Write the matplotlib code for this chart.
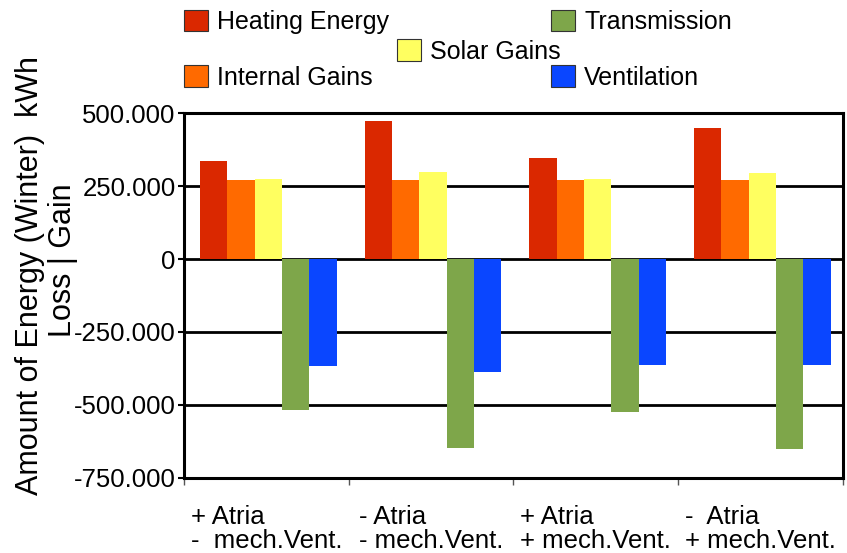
import matplotlib
matplotlib.use("Agg")
import matplotlib.pyplot as plt
import numpy as np

plt.rcParams['font.family'] = ['Liberation Sans', 'DejaVu Sans']

# values in kWh
categories = ["+ Atria\n-  mech.Vent.", "- Atria\n- mech.Vent.",
              "+ Atria\n+ mech.Vent.", "-  Atria\n+ mech.Vent."]
heating = [337000, 473000, 346000, 449000]
internal = [271000, 271000, 271000, 271000]
solar = [274000, 299000, 274000, 295000]
transmission = [-516000, -647000, -524000, -651000]
ventilation = [-365000, -389000, -364000, -364000]

series_names = ["Heating Energy", "Internal Gains", "Solar Gains", "Transmission", "Ventilation"]
series_vals = [heating, internal, solar, transmission, ventilation]
colors = ["#DA2800", "#FF6A00", "#FFFF60", "#7EA64A", "#0A46FF"]

yticks = [-750000, -500000, -250000, 0, 250000, 500000]

fig = plt.figure(figsize=(8.47, 5.53), dpi=100)
ax = fig.add_axes([0.2172, 0.1362, 0.7777, 0.6586])

x = np.arange(len(categories))
w = 0.166
bars = []
for k, (name, vals, c) in enumerate(zip(series_names, series_vals, colors)):
    b = ax.bar(x + (k - 2) * w + 0.012, vals, w, color=c, label=name, zorder=3)
    bars.append(b)

ax.set_xlim(-0.5, 3.5)
ax.set_ylim(-750000, 500000)
ax.set_yticks(yticks)
ax.set_yticklabels([f"{v:,.0f}".replace(",", ".") for v in yticks], fontsize=18.5)
ax.yaxis.grid(True, color="black", linewidth=2)
ax.set_axisbelow(True)

ax.set_xticks(x)
ax.set_xticklabels(categories, fontsize=18.5, multialignment="left", linespacing=1.0)
ax.tick_params(axis="x", length=0, pad=20)
ax.set_xticks(np.arange(-0.5, 4, 1.0), minor=True)
ax.tick_params(axis="x", which="minor", length=5, width=1, color="#555555")
ax.tick_params(axis="y", length=4, width=1.5, pad=2)

for s in ax.spines.values():
    s.set_linewidth(2.2)
    s.set_color("black")

fig.text(0.0354, 0.5027, "Amount of Energy (Winter)  kWh", rotation=90,
         ha="center", va="center", fontsize=22)
fig.text(0.074, 0.5298, "Loss | Gain", rotation=90,
         ha="center", va="center", fontsize=22)

# legend laid out in the same staggered way as the original
legend_pos = {
    "Heating Energy": (0.2172, 0.96),
    "Internal Gains": (0.2172, 0.86),
    "Solar Gains": (0.4687, 0.907),
    "Transmission": (0.6505, 0.96),
    "Ventilation": (0.6505, 0.86),
}
for name, b in zip(series_names, bars):
    leg = fig.legend([b], [name], loc="center left", bbox_to_anchor=legend_pos[name],
                     frameon=False, fontsize=18, handlelength=0.95, handleheight=0.95,
                     handletextpad=0.38, borderpad=0, borderaxespad=0)
    for p in leg.get_patches():
        p.set_edgecolor("#333333")
        p.set_linewidth(0.8)

fig.savefig("out.png", dpi=100)
